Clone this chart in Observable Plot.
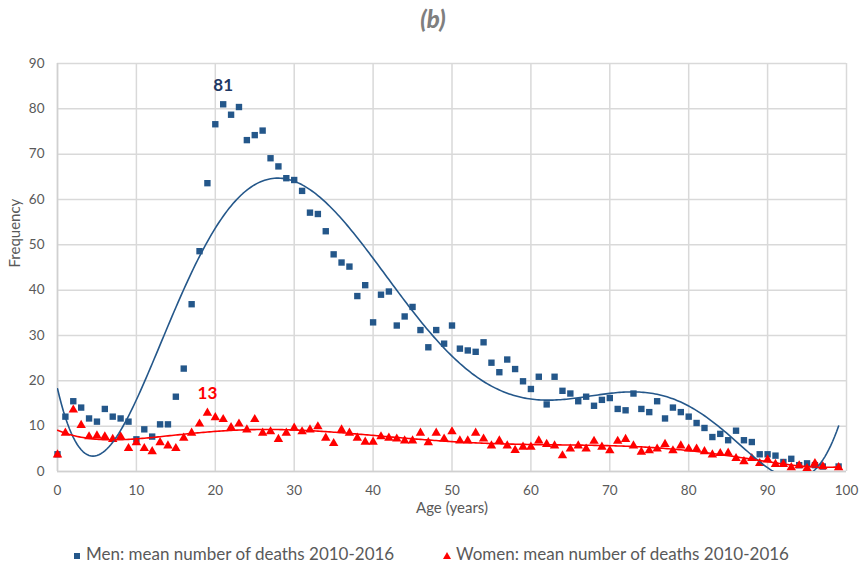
<!DOCTYPE html>
<html><head><meta charset="utf-8">
<script src="https://cdn.jsdelivr.net/npm/d3@7"></script>
<script src="https://cdn.jsdelivr.net/npm/@observablehq/plot@0.6"></script>
<style>
body{margin:0;background:#fff;font-family:Lato,"Open Sans",sans-serif;}
#wrap{position:relative;width:860px;height:567px;overflow:hidden;}
#title{position:absolute;left:0;top:4px;width:866px;text-align:center;font-size:24px;font-weight:900;font-style:italic;color:#7f7f7f;}
#chart{position:absolute;left:0;top:40px;}
.leg{position:absolute;top:543px;font-size:17px;color:#595959;white-space:nowrap;line-height:22px;}
.sq{display:inline-block;width:6px;height:6px;background:#24578a;margin-right:6px;vertical-align:middle;position:relative;top:0px;}
.tri{display:inline-block;width:0;height:0;border-left:4px solid transparent;border-right:4px solid transparent;border-bottom:7px solid #ff0000;margin-right:5px;vertical-align:middle;position:relative;top:0px;}
</style></head><body>
<div id="wrap">
<div id="title">(b)</div>
<div id="chart"></div>
<div class="leg" style="left:74px"><span class="sq"></span>Men: mean number of deaths 2010-2016</div>
<div class="leg" style="left:443px"><span class="tri"></span>Women: mean number of deaths 2010-2016</div>
</div>
<script>
const ages = [0,1,2,3,4,5,6,7,8,9,10,11,12,13,14,15,16,17,18,19,20,21,22,23,24,25,26,27,28,29,30,31,32,33,34,35,36,37,38,39,40,41,42,43,44,45,46,47,48,49,50,51,52,53,54,55,56,57,58,59,60,61,62,63,64,65,66,67,68,69,70,71,72,73,74,75,76,77,78,79,80,81,82,83,84,85,86,87,88,89,90,91,92,93,94,95,96,97,99];
const men = [3.8,12.1,15.5,14.1,11.7,11.0,13.8,12.1,11.7,11.0,7.1,9.3,7.7,10.4,10.4,16.5,22.7,36.9,48.6,63.6,76.6,81.0,78.7,80.4,73.1,74.2,75.2,69.1,67.3,64.7,64.3,61.9,57.1,56.8,53.0,47.9,46.1,45.2,38.7,41.1,32.9,39.0,39.7,32.2,34.2,36.3,31.2,27.4,31.2,28.2,32.2,27.1,26.7,26.4,28.5,24.0,21.9,24.7,22.6,19.9,18.2,20.9,14.8,20.9,17.8,17.2,15.5,16.5,14.5,15.8,16.2,13.8,13.5,17.2,13.8,13.1,15.5,11.7,14.1,13.1,12.1,10.7,9.6,7.6,8.3,6.9,9.0,6.9,6.5,3.8,3.8,3.5,2.1,2.8,1.4,1.8,1.4,1.1,1.1];
const women = [3.7,8.5,13.6,10.2,7.7,7.9,7.7,7.1,7.7,5.1,6.4,5.1,4.4,6.4,5.7,5.1,7.4,8.5,10.5,12.9,11.9,11.5,9.7,10.5,9.2,11.5,8.5,8.8,7.1,8.5,9.6,8.8,9.2,9.9,7.4,6.2,9.2,8.5,7.4,6.5,6.5,7.7,7.4,7.2,6.8,6.8,8.5,6.4,8.5,7.2,8.8,6.8,6.8,8.5,7.2,5.7,6.8,5.7,4.7,5.4,5.4,6.8,6.0,5.7,3.5,5.0,5.7,5.0,6.7,5.4,4.6,6.7,7.1,5.7,4.3,4.6,5.0,6.0,4.6,5.7,5.0,5.0,4.4,3.7,4.0,4.1,2.9,2.2,2.9,1.8,2.6,1.6,1.6,0.9,1.3,0.7,1.8,1.1,0.9];
const xTicks = [0,10,20,30,40,50,60,70,80,90,100];
const yTicks = [0,10,20,30,40,50,60,70,80,90];
const peakLabels = [{age:21, value:81, who:"men"},{age:19, value:13, who:"women"}];

const MEN = "#24578a", WOMEN = "#ff0000";

// Polynomial (order 6) trendline, least squares — as Excel trendline
function polyfit(xs, ys, deg){
  const n = deg+1, c = 50, s = 50;
  const A = Array.from({length:n},()=>new Array(n+1).fill(0));
  for(let k=0;k<xs.length;k++){
    const t=(xs[k]-c)/s; const p=[1];
    for(let i=1;i<n;i++) p.push(p[i-1]*t);
    for(let i=0;i<n;i++){ for(let j=0;j<n;j++) A[i][j]+=p[i]*p[j]; A[i][n]+=p[i]*ys[k]; }
  }
  for(let i=0;i<n;i++){
    let m=i; for(let r=i+1;r<n;r++) if(Math.abs(A[r][i])>Math.abs(A[m][i])) m=r;
    const tmp=A[i]; A[i]=A[m]; A[m]=tmp;
    for(let r=0;r<n;r++){ if(r===i) continue; const f=A[r][i]/A[i][i]; for(let q=i;q<=n;q++) A[r][q]-=f*A[i][q]; }
  }
  const coef=A.map((row,i)=>row[n]/row[i]);
  return x=>{const t=(x-c)/s; let v=0,p=1; for(const a of coef){v+=a*p;p*=t;} return v;};
}
const fm = polyfit(ages, men, 6), fw = polyfit(ages, women, 6);
const grid = d3.range(0, 99.001, 0.25);
const menFit = grid.map(x=>({x, y:fm(x)}));
const womenFit = grid.map(x=>({x, y:fw(x)}));
const menPts = ages.map((a,i)=>({age:a, v:men[i]}));
const womenPts = ages.map((a,i)=>({age:a, v:women[i]}));

const font = 'Lato,"Open Sans",sans-serif';
const chart = Plot.plot({
  width: 860, height: 495,
  marginTop: 23, marginBottom: 64, marginLeft: 57, marginRight: 14,
  style: {fontFamily: font, fontSize: "13.5px", color: "#595959", background: "#fff"},
  x: {domain:[0,100], ticks: xTicks},
  y: {domain:[0,90], ticks: yTicks},
  marks: [
    Plot.gridX(xTicks, {stroke:"#d9d9d9", strokeOpacity:1, strokeWidth:1.5}),
    Plot.gridY(yTicks, {stroke:"#d9d9d9", strokeOpacity:1, strokeWidth:1.5}),
    Plot.ruleX([0], {stroke:"#d0d0d0", strokeWidth:1.5}),
    Plot.ruleY([0], {stroke:"#d0d0d0", strokeWidth:1.5}),
    Plot.axisX(xTicks, {tickSize:0, tickPadding:14, fill:"#595959", fontSize:13.5, label:null}),
    Plot.axisY(yTicks, {tickSize:0, tickPadding:13, fill:"#595959", fontSize:13.5, label:null}),
    Plot.text(["Age (years)"], {frameAnchor:"bottom", dy:41, fill:"#595959", fontSize:15}),
    Plot.text(["Frequency"], {frameAnchor:"left", dx:-42, rotate:-90, fill:"#595959", fontSize:15}),
    Plot.dot(menPts, {x:"age", y:"v", symbol:"square", r:3.6, fill:MEN, stroke:"none"}),
    Plot.dot(womenPts, {x:"age", y:"v", symbol:d3.symbolTriangle, r:3.5, fill:WOMEN, stroke:"none"}),
    Plot.line(menFit, {x:"x", y:"y", stroke:MEN, strokeWidth:1.6, clip:true}),
    Plot.line(womenFit, {x:"x", y:"y", stroke:WOMEN, strokeWidth:1.6, clip:true}),
    Plot.text(peakLabels, {x:"age", y:"value", text:d=>String(d.value), dy:-19, fontWeight:"bold", fontSize:17,
      fill:d=>d.who==="men" ? "#1f3864" : "#ff0000"})
  ]
});
document.getElementById("chart").appendChild(chart);
</script>
</body></html>
